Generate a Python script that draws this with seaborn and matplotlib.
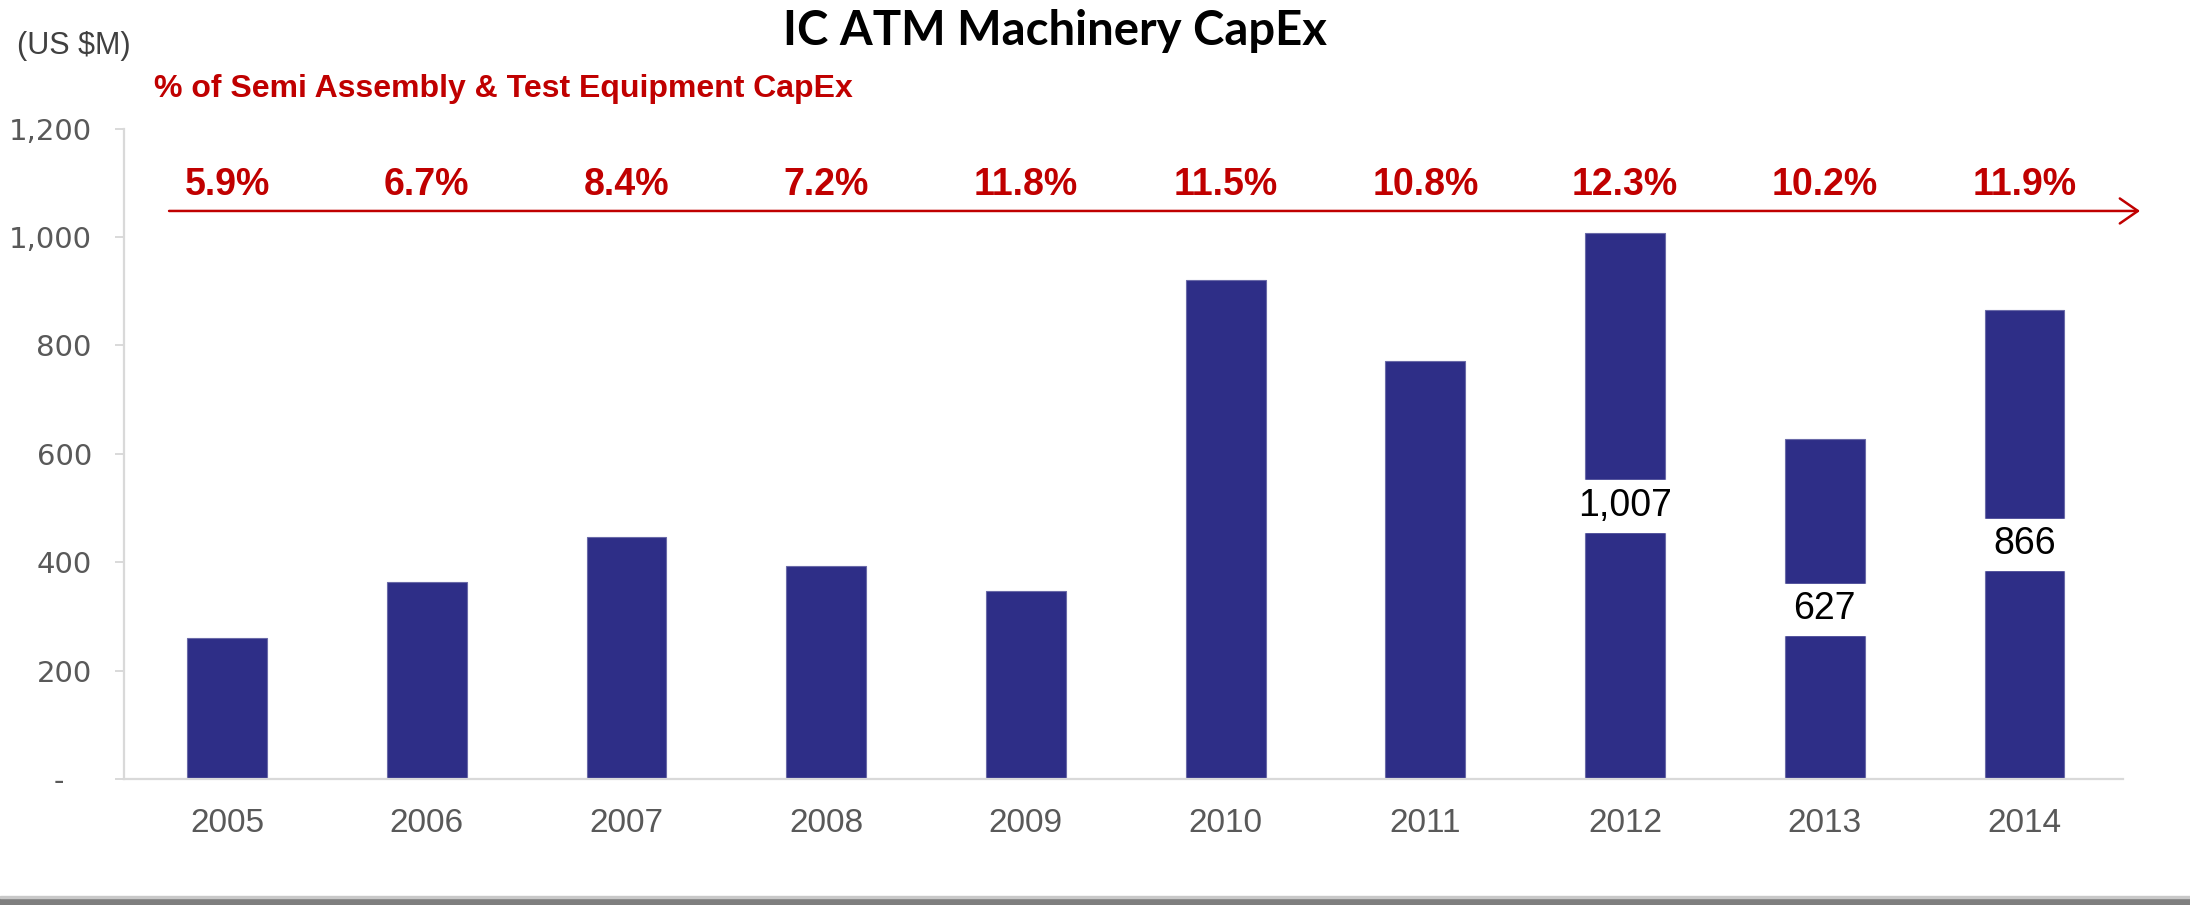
import matplotlib
matplotlib.use("Agg")
import matplotlib.pyplot as plt
import seaborn as sns
import pandas as pd
from matplotlib.patches import Rectangle

# ---- data ----
years = ["2005", "2006", "2007", "2008", "2009", "2010", "2011", "2012", "2013", "2014"]
capex = [260, 363, 447, 394, 348, 921, 771, 1007, 627, 866]
pct_labels = ["5.9%", "6.7%", "8.4%", "7.2%", "11.8%", "11.5%", "10.8%", "12.3%", "10.2%", "11.9%"]
labelled_years = ["2012", "2013", "2014"]
y_ticks = [0, 200, 400, 600, 800, 1000, 1200]
y_tick_labels = ["-   ", "200", "400", "600", "800", "1,000", "1,200"]

title = "IC ATM Machinery CapEx"
unit_label = "(US $M)"
subtitle = "% of Semi Assembly & Test Equipment CapEx"

BAR = "#2E2E87"
RED = "#C00000"
GRAY = "#595959"
NARROW = ["Liberation Sans", "DejaVu Sans"]

sns.set_theme(style="white")
plt.rcParams["font.family"] = ["DejaVu Sans"]

df = pd.DataFrame({"year": years, "capex": capex})

fig = plt.figure(figsize=(21.9, 9.05), dpi=100)
ax = fig.add_axes([0.0568, 0.1389, 0.9126, 0.7191])

sns.barplot(data=df, x="year", y="capex", color=BAR, saturation=1, width=0.4,
            edgecolor="#6a6aa8", linewidth=0.8, ax=ax)

# white label gaps + value labels for selected bars
gap = 95
for i, (y, v) in enumerate(zip(years, capex)):
    if y in labelled_years:
        ax.bar(i, gap, bottom=v / 2 - gap / 2, width=0.42, color="white", zorder=3)
        ax.text(i, v / 2, f"{v:,}", ha="center", va="center", fontsize=27,
                family=NARROW, color="black", zorder=4)

# percent labels
for i, p in enumerate(pct_labels):
    ax.text(i, 1095, p, ha="center", va="center", fontsize=27, fontweight="bold",
            family=["Liberation Sans", "DejaVu Sans"], color=RED)

ax.set_xlim(-0.514, 9.493)
ax.set_ylim(0, 1200)
ax.set_yticks(y_ticks)
ax.set_yticklabels(y_tick_labels)
ax.set_xlabel("")
ax.set_ylabel("")

for s in ["top", "right"]:
    ax.spines[s].set_visible(False)
for s in ["left", "bottom"]:
    ax.spines[s].set_color("#d9d9d9")
    ax.spines[s].set_linewidth(1.6)

ax.tick_params(axis="y", which="major", left=True, length=6.5, width=1.4, color="#d9d9d9",
               labelsize=21, labelcolor=GRAY, pad=17)
ax.tick_params(axis="x", which="major", bottom=False, length=0, labelsize=24,
               labelcolor=GRAY, pad=21)
for lab in ax.get_xticklabels():
    lab.set_family(NARROW)

# arrow
ax.annotate("", xy=(0.9772, 0.7669), xytext=(0.0772, 0.7669),
            xycoords="figure fraction", textcoords="figure fraction",
            arrowprops=dict(arrowstyle="->, head_length=0.65, head_width=0.45",
                            color=RED, lw=1.8, mutation_scale=20,
                            shrinkA=0, shrinkB=0))

# titles
fig.text(0.4817, 0.966, title, ha="center", va="center", fontsize=34,
         fontweight="bold", family=["Lato", "DejaVu Sans"], color="black")
fig.text(0.0078, 0.949, unit_label, ha="left", va="center", fontsize=22,
         family=NARROW, color="#404040")
fig.text(0.0703, 0.9017, subtitle, ha="left", va="center", fontsize=23,
         fontweight="bold", family=["Liberation Sans", "DejaVu Sans"], color=RED)

# bottom gray band
fig.patches.append(Rectangle((0, 0), 1, 7 / 905, transform=fig.transFigure,
                             color="#7f7f7f", zorder=0))
fig.patches.append(Rectangle((0, 7 / 905), 1, 2 / 905, transform=fig.transFigure,
                             color="#c8c8c8", zorder=0))

fig.savefig("out.png", dpi=100)
